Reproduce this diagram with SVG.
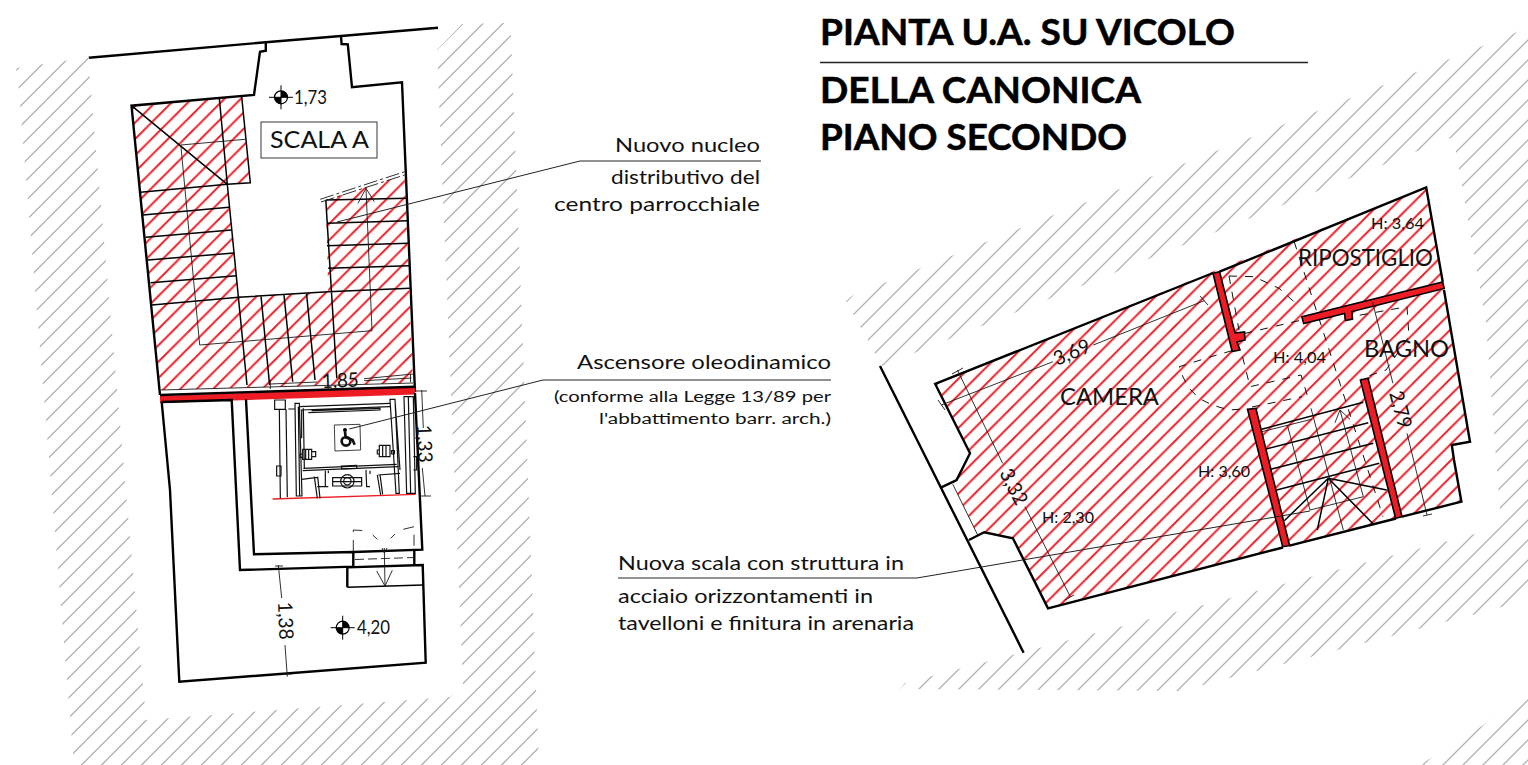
<svg xmlns="http://www.w3.org/2000/svg" width="1528" height="765" viewBox="0 0 1528 765">
<style>
text{font-family:"Lato","Liberation Sans",sans-serif;fill:#111}
.t{font-weight:700;font-size:36px;fill:#000;stroke:#000;stroke-width:.5}
.n{font-size:19px;font-weight:400}
.s{font-size:15.5px;font-weight:400}
.r{font-size:23px;font-weight:400}
.h{font-size:16px;font-weight:400}
.d{font-size:20px;font-weight:400}
.k{fill:none;stroke:#000;stroke-width:2.4;stroke-linejoin:miter}
.m{fill:none;stroke:#000;stroke-width:1.5}
.f{fill:none;stroke:#1a1a1a;stroke-width:.9}
.da{fill:none;stroke:#111;stroke-width:1;stroke-dasharray:8 8}
.w{fill:#ed1c24;stroke:#000;stroke-width:1.6}
</style>
<defs>
<pattern id="gl" patternUnits="userSpaceOnUse" width="20" height="20"><path d="M8.5-2L-2 8.5M22 4.5L4.5 22" stroke="#b3b3b3" stroke-width="1.35" fill="none"/></pattern>
<pattern id="gr" patternUnits="userSpaceOnUse" width="20" height="20"><path d="M10-2L-2 10M22 6L6 22" stroke="#b3b3b3" stroke-width="1.35" fill="none"/></pattern>
<pattern id="rl" patternUnits="userSpaceOnUse" width="16.4" height="16.4"><path d="M13.7-2L-2 13.7M20 8.1L8.1 20" stroke="#ed1c24" stroke-width="2" fill="none"/></pattern>
<pattern id="rr" patternUnits="userSpaceOnUse" width="16.4" height="16.4"><path d="M10.8-2L-2 10.8M20 5.2L5.2 20" stroke="#ed1c24" stroke-width="2" fill="none"/></pattern>
<g id="lev"><circle r="6.5" fill="#fff" stroke="#000" stroke-width="1.2"/><path d="M0-6.5A6.5 6.5 0 0 1 6.5 0H0ZM0 6.5A6.5 6.5 0 0 1-6.5 0H0Z" fill="#000"/><path d="M-12 0H12M0-12V12" stroke="#000" stroke-width="1"/></g>
</defs>

<g id="grey-hatch">
<polygon fill="url(#gl)" points="16,68 88,57.5 146,720 450,697 463,686 437,50 462,24 504,23 511,36 538.5,752 526,766 74,766 18.5,86"/>
<polygon fill="url(#gr)" points="846,301 852,296 1018,229 1513,34 1528,26 1528,497 1500,512 1486,323 1456,152 1450,138 882,366"/>
<polygon fill="url(#gr)" points="905,683 1475,534 1499,528 1528,497 1528,582 1505,606 1476,614 1180,691 900,689"/>
<polygon fill="url(#gr)" points="1418,766 1434,756 1485,724 1528,684 1528,766"/>
</g>

<g id="plan-scala">
<polygon fill="url(#rl)" points="131.5,105.7 241.7,96.7 250.3,182.7 227.3,184.3 238.6,296.7 328.2,291.7 325.8,200 404.6,175 413,383 160.5,390"/>
<path class="k" d="M88.8 57.7L265.8 42.3L341 36L438 27.7"/>
<path class="k" d="M265.8 42.3V50.7L260 51.7L254 95L131.5 105.7L160 395"/>
<path class="k" d="M341 36L341.6 44L347.8 44.3L352 87.3L402 82.3L415 392"/>
<path class="m" d="M241.7 96.7L250.3 182.7L227.3 184.3M219.4 99L227.3 184.3L247 385M131.5 105.7L227.3 184.3"/>
<path class="m" d="M140.5 192.3L227.3 184.3M143 215L229 207.3M145.7 237.3L231.4 230M148 260L234 253M150.5 282.7L236.6 275.7M152 305L238.6 297.3L328 291.7L409.8 288.3M325.8 200L407.4 198.3M327 223.3L407.4 220.7M327 245.7L408.7 243.3M328.2 268.3L409 265.7M325.8 200L336.8 378.3M261 296L269.6 385M284 295L292.7 381.7M306.5 293L315 380"/>
<path class="f" d="M180.8 145L245.2 139.3M180.8 145L199.7 345L372 330.7L366 188.3M358 203.3L366 188.3L374.3 201.7"/>
<path class="f" stroke-dasharray="14 3 3 3" d="M320.2 199.3L404.6 171.7M321 202L404.6 175"/>
<path class="f" d="M160.5 390L413 383"/>
<path class="f" d="M270.3 384L317 382M364 380.7L411.5 378M364 378.7L413 374M270.3 380V389M410.5 374V382"/>
<polygon fill="#ed1c24" points="160,396 415,387 415,394.5 160,403"/>
<path d="M160 395L415 386.7" stroke="#000" stroke-width="2.4"/>
<text class="d" transform="translate(322,388) rotate(-2)" textLength="37" lengthAdjust="spacingAndGlyphs">1,85</text>
<path class="k" d="M161.7 402L170 490L179.3 681.7L425.7 662.7L422.7 565L347.3 567.3V587.3"/>
<path class="m" d="M347.3 587.3L423 585"/>
<path class="k" d="M161.7 402L231.7 400L240 570L353.3 566.7V552M246 399.3L254 554.3L353.3 552L422.3 549.7L415 393"/>
<path class="k" d="M414.3 550V565"/>
<path class="f" stroke-dasharray="9 4" d="M355 559.5L414 557.5"/>
<path class="f" d="M384.3 548L385 586M376.7 571L385 586L392.3 570.3M382 548L384.3 553L387 548"/>
<path class="f" stroke-dasharray="11 8" d="M353.3 551V530L365 530.7M372.7 535L377.3 539.3M390.7 538.3L395 534M403.3 529.3L414 526.7V550"/>
<g id="ascensore" transform="translate(260,380) scale(.3333)" fill="none" stroke="#111" stroke-width="3.6">
<path d="M38 357L467 343" stroke="#ed1c24" stroke-width="4"/>
<path d="M44 60H76V88H44ZM58 88L61 355M78 88L82 352M85 87H105M105 70H118L126 348H109ZM115 80L119 348"/>
<path d="M118 80L390 70M122 90L390 80M145 98L360 90V85L155 92"/>
<path d="M125 90V175M130 85L133 265M128 272L415 260M130 265L410 253"/>
<path d="M120 222H128V232H120ZM128 208H155V238H128ZM137 208V238M146 208V238M155 215H167V230H155Z"/>
<path d="M395 212H403V222H395ZM358 196H390V230H358ZM368 196V230M378 196V230M352 210H358V222H352Z"/>
<path d="M223 135L300 133L302 210L225 213Z" stroke-width="2.4"/>
<path d="M244 258L290 256V265L246 267ZM196 272V320H205M205 272V280M218 293H305V318H218ZM218 305H305"/>
<circle cx="262" cy="304" r="20"/><circle cx="262" cy="304" r="11"/>
<path d="M318 270L320 320H330M330 272V282M163 290L172 355M173 290L180 355M352 285L362 345M360 283L368 343M125 298L172 292M355 285L420 280M50 258H63V288H50ZM172 320H195"/>
<path d="M390 58H405L418 340H408ZM405 60L420 270M432 50H460L466 340H440ZM445 50L452 338M460 230H470V270H460"/>
<circle cx="255" cy="150" r="6" fill="#000" stroke="none"/>
<path d="M255 155L257 172L278 180L284 194" stroke-width="8"/>
<circle cx="258" cy="184" r="13" stroke-width="8"/>
</g>
<path class="f" d="M421.7 390L423.3 428M422.3 468L425 496M416 391H427M419 496H431"/>
<text class="d" transform="translate(417,425) rotate(88)" textLength="38" lengthAdjust="spacingAndGlyphs">1,33</text>
<path class="f" d="M278.3 565L281.7 598M285 645L287.3 676.7M275 566H283M283 674H292"/>
<text class="d" transform="translate(278,602) rotate(88)" textLength="38" lengthAdjust="spacingAndGlyphs">1,38</text>
<use href="#lev" x="281" y="97.3"/>
<text class="d" x="294" y="104" textLength="33" lengthAdjust="spacingAndGlyphs">1,73</text>
<use href="#lev" x="342.7" y="627.7"/>
<text class="d" x="357" y="634" textLength="33" lengthAdjust="spacingAndGlyphs">4,20</text>
<rect x="261" y="122" width="116" height="36" fill="#fff" stroke="#222" stroke-width=".9"/>
<text class="r" x="270" y="148" textLength="99" lengthAdjust="spacingAndGlyphs">SCALA A</text>
</g>

<g id="plan-camera">
<polygon fill="url(#rr)" points="935.2,384 970,453.3 956.6,480 952.8,484.3 977.7,535 984.2,532.3 1012.9,538.3 1048,608.3 1286.5,546.7 1461.4,501.7 1454,460 1451.8,445 1470,441.7 1444,290 1442.7,281.7 1426.2,187.3 1218.4,269.3"/>
<path class="k" d="M880 366L1023.6 652.7"/>
<path class="k" d="M1213 273L935.2 384L970 453.3L956.6 480L941.3 487.3M968.9 540L984.2 532.3L1012.9 538.3L1048 608.3L1283 547.5M1289.5 545.7L1396 518.5M1402 516.7L1461.4 501.7L1454 460L1451.8 445L1470 441.7L1444 290M1442.7 281.7L1426.2 187.3L1219.6 271.7"/>
<path class="f" d="M952.8 484.3L977.7 535"/>
<path class="da" d="M1232 350.7L1210 357L1179.4 366.7L1183 377L1189 388L1198.5 398L1212 405L1229 410L1247 408.7"/>
<path class="da" d="M1229 276L1254 276.7L1279 288.3L1294 301.7M1229 276L1239 330M1244.5 333.5L1301.8 320"/>
<path class="da" d="M1242.5 356.7L1250 386.7L1301 375L1307.7 396.7M1252 407L1302 396.7M1344 318L1407 306.7L1409 336.7L1386 370L1361.5 378.3"/>
<path class="da" d="M1294.2 241.7L1383 516.7"/>
<polygon class="w" points="1213,273.3 1219.6,271.7 1235,333 1244.5,332 1245,340 1237,342 1240,350 1232.2,351.5"/>
<polygon class="w" points="1301.8,316.7 1442.7,282 1444.2,288.5 1352,311.5 1352.5,319 1345.5,320.5 1344.5,313.5 1303.7,323.5"/>
<polygon class="w" points="1247.5,409.3 1255.9,408.3 1289.6,545.7 1282.7,546.7"/>
<polygon class="w" points="1360.4,380 1368,378.3 1402,516.7 1395.6,518.3"/>
<path class="m" d="M1261.7 429.3L1363.3 402.3M1265 449.3L1368.3 422.7M1270.7 469.3L1373.3 443.3M1276.7 490L1379.3 463.3M1328.3 478.3L1284.3 520.7M1328.3 478.3L1317.3 530M1328.3 478.3L1373.3 524M1328.3 478.3L1386.7 490"/>
<path class="f" d="M1261.7 431.7L1311.7 419.3M1287.3 425L1310 510L1363.3 496.7L1340 410M1335 422.7L1340 410L1350 419.3M1311 408.3L1343.3 530"/>
<path class="f" d="M941.3 405L1053 361.7M1093.3 345L1204.2 300.7M938 400L945 410M1200 296L1208 305M957.4 370L1002.6 463.3M1025 506.7L1070.3 596.7M952 374L963 368M1065 600L1074 595M1372.6 302.3L1392.9 383.3M1407 433.3L1427 515M1423 516L1432 514"/>
<text class="d" transform="translate(1057,366) rotate(-23)" textLength="38" lengthAdjust="spacingAndGlyphs">3,69</text>
<text class="d" transform="translate(999,473) rotate(63)" textLength="38" lengthAdjust="spacingAndGlyphs">3,32</text>
<text class="d" transform="translate(1389,393) rotate(75)" textLength="38" lengthAdjust="spacingAndGlyphs">2,79</text>
<text class="r" x="1060" y="405" textLength="99" lengthAdjust="spacingAndGlyphs">CAMERA</text>
<text class="r" x="1298" y="266" textLength="135" lengthAdjust="spacingAndGlyphs">RIPOSTIGLIO</text>
<text class="r" x="1364" y="357" textLength="85" lengthAdjust="spacingAndGlyphs">BAGNO</text>
<text class="h" x="1371" y="229" textLength="53" lengthAdjust="spacingAndGlyphs">H: 3,64</text>
<text class="h" x="1273" y="363" textLength="53" lengthAdjust="spacingAndGlyphs">H: 4,04</text>
<text class="h" x="1198" y="477" textLength="52" lengthAdjust="spacingAndGlyphs">H: 3,60</text>
<text class="h" x="1042" y="523" textLength="52" lengthAdjust="spacingAndGlyphs">H: 2,30</text>
</g>

<g id="connectors" fill="none" stroke="#222" stroke-width="1">
<path d="M761 161H580L337 222"/>
<path d="M831 380H543L349.3 429"/>
<path d="M618 578H917L1022.6 560L1277 516.7L1310 511"/>
</g>

<g id="labels">
<text class="n" x="760" y="152" text-anchor="end" textLength="145" lengthAdjust="spacingAndGlyphs">Nuovo nucleo</text>
<text class="n" x="760" y="184" text-anchor="end" textLength="149" lengthAdjust="spacingAndGlyphs">distributivo del</text>
<text class="n" x="760" y="211" text-anchor="end" textLength="206" lengthAdjust="spacingAndGlyphs">centro parrocchiale</text>
<text class="n" x="831" y="369" text-anchor="end" textLength="254" lengthAdjust="spacingAndGlyphs">Ascensore oleodinamico</text>
<text class="s" x="831" y="402" text-anchor="end" textLength="277" lengthAdjust="spacingAndGlyphs">(conforme alla Legge 13/89 per</text>
<text class="s" x="831" y="424" text-anchor="end" textLength="232" lengthAdjust="spacingAndGlyphs">l'abbattimento barr. arch.)</text>
<text class="n" x="618" y="570" textLength="286" lengthAdjust="spacingAndGlyphs">Nuova scala con struttura in</text>
<text class="n" x="618" y="603" textLength="255" lengthAdjust="spacingAndGlyphs">acciaio orizzontamenti in</text>
<text class="n" x="618" y="630" textLength="296" lengthAdjust="spacingAndGlyphs">tavelloni e finitura in arenaria</text>
</g>
<g id="title">
<text class="t" x="820" y="45" textLength="415" lengthAdjust="spacingAndGlyphs">PIANTA U.A. SU VICOLO</text>
<path d="M820 62.5H1308" stroke="#222" stroke-width="1.6"/>
<text class="t" x="820" y="103" textLength="321" lengthAdjust="spacingAndGlyphs">DELLA CANONICA</text>
<text class="t" x="820" y="150" textLength="307" lengthAdjust="spacingAndGlyphs">PIANO SECONDO</text>
</g>
</svg>
